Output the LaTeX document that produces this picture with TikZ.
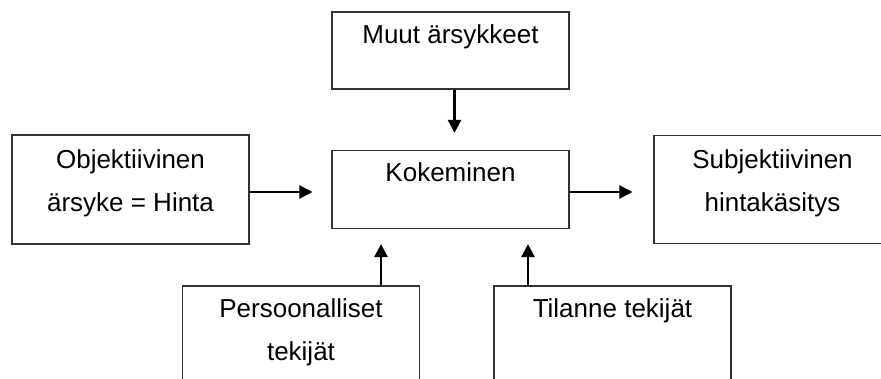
\documentclass[tikz,border=0pt]{standalone}
\usepackage{fontspec}
\setmainfont{Liberation Sans}
\usetikzlibrary{arrows.meta}

\begin{document}
\begin{tikzpicture}[x=1pt, y=-1pt,
        box/.style={draw=black!80, line width=1.2pt, minimum width=237pt, inner sep=0pt},
        txt/.style={anchor=north, yshift=-13pt, inner sep=0pt, align=center, font=\fontsize{26}{43}\selectfont},
        arr/.style={black, line width=2.6pt, -{Triangle[length=13pt,width=13pt]}}]
        \path[use as bounding box, clip] (0,0) rectangle (881,378);

        \node[box, minimum height=77pt, label={[txt]north:Muut ärsykkeet}] (muut) at (450.5,50.5) {};
        \node[box, minimum height=78pt, label={[txt]north:Kokeminen}] (koke) at (450.5,189.5) {};
        \node[box, minimum height=109pt, label={[txt, yshift=-2pt]north:Objektiivinen\\ärsyke = Hinta}] (obj) at (130.5,189.5) {};
        \node[box, minimum height=108pt, label={[txt, yshift=-2pt]north:Subjektiivinen\\hintakäsitys}] (subj) at (772.5,189.5) {};
        \node[box, minimum height=109pt, label={[txt]north:Persoonalliset\\tekijät}] (pers) at (301,340.5) {};
        \node[box, minimum height=109pt, label={[txt]north:Tilanne tekijät}] (tila) at (612.5,340.5) {};

        \draw[arr, shorten >=17pt] ([xshift=4pt]muut.south) -- ([xshift=4pt]koke.north);
        \draw[arr, shorten >=19pt] ([yshift=-2.5pt]obj.east) -- ([yshift=-2.5pt]koke.west);
        \draw[arr, shorten >=21pt] ([yshift=-2.5pt]koke.east) -- ([yshift=-2.5pt]subj.west);
        \draw[arr, shorten >=15pt] ([xshift=80pt]pers.north) -- ([xshift=-69.5pt]koke.south);
        \draw[arr, shorten >=15pt] ([xshift=-84.5pt]tila.north) -- ([xshift=77.5pt]koke.south);
    \end{tikzpicture}
\end{document}
